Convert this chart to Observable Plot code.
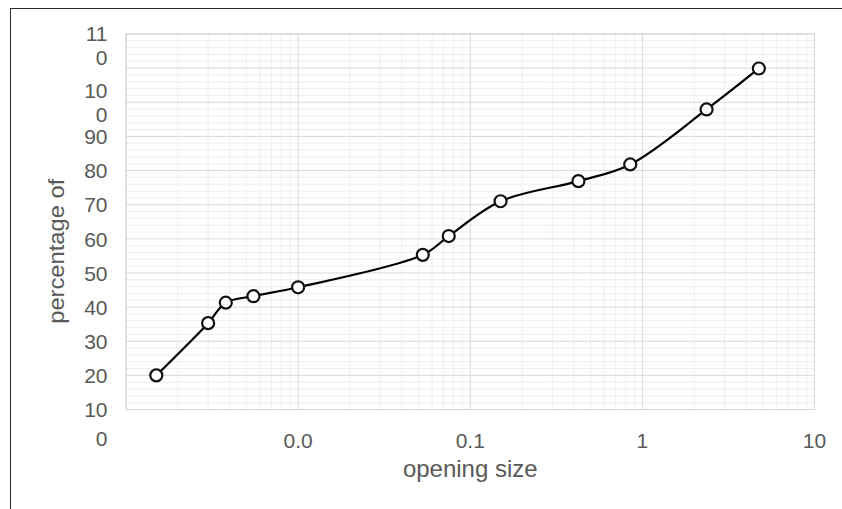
<!DOCTYPE html>
<html>
<head>
<meta charset="utf-8">
<script src="https://cdn.jsdelivr.net/npm/d3@7"></script>
<script src="https://cdn.jsdelivr.net/npm/@observablehq/plot@0.6"></script>
<style>
  html, body { margin: 0; padding: 0; background: #fff; overflow: hidden; }
  #wrap { position: relative; width: 842px; height: 509px; }
  #border {
    position: absolute; left: 9.5px; top: 7.5px; width: 900px; height: 600px;
    border-left: 1.5px solid #2b2b2b; border-top: 1.5px solid #2b2b2b;
  }
  #chart { position: absolute; left: 0; top: 0; }
</style>
</head>
<body>
<div id="wrap">
  <div id="border"></div>
  <div id="chart"></div>
</div>
<script>
// Grain-size distribution: percentage passing versus sieve / particle opening size (mm)
const openingSizes = [0.0015, 0.003, 0.0038, 0.0055, 0.01, 0.053, 0.075, 0.15, 0.425, 0.85, 2.36, 4.75];
const percentPassing = [20.0, 35.3, 41.3, 43.2, 45.8, 55.3, 60.8, 71.0, 76.9, 81.8, 97.9, 109.9];

// Axis ticks and their printed labels
const xTicks = [0.01, 0.1, 1, 10];
const xTickLabels = ["0.0", "0.1", "1", "10"];
const yTicks = [10, 20, 30, 40, 50, 60, 70, 80, 90, 100];
const yTickLabels = ["10", "20", "30", "40", "50", "60", "70", "80", "90", "10\n0"];
const yBottomTick = [0];
const yBottomTickLabel = ["0"];
const yTopTick = [110];
const yTopTickLabel = ["11\n0"];

const xTitle = "opening size";
const yTitle = "percentage of";

const rows = openingSizes.map((s, i) => ({size: s, pct: percentPassing[i]}));

// Gridlines: decades and their 2–9 subdivisions on x, every 10 and every 2 on y
const decades = [0.001, 0.01, 0.1, 1, 10];
const xMinor = decades.slice(0, -1).flatMap(d => d3.range(2, 10).map(k => d * k));
const yMajor = d3.range(10, 121, 10);
const yMinor = d3.range(10, 121, 2).filter(v => v % 10 !== 0);

const xLabelOf = new Map(xTicks.map((t, i) => [t, xTickLabels[i]]));
const yLabelOf = new Map(yTicks.map((t, i) => [t, yTickLabels[i]]));

const tickStyle = {tickSize: 0, label: null, fill: "#595959", lineHeight: 1.15};

const chart = Plot.plot({
  width: 842,
  height: 509,
  marginLeft: 125.5,
  marginRight: 28,
  marginTop: 33.5,
  marginBottom: 100,
  x: {type: "log", domain: [0.001, 10]},
  y: {domain: [10, 120]},
  style: {
    fontFamily: "'Liberation Sans', Arial, sans-serif",
    fontSize: "21px",
    color: "#595959",
    background: "transparent",
    overflow: "visible"
  },
  marks: [
    Plot.gridX(xMinor, {stroke: "#eeeeee", strokeOpacity: 1}),
    Plot.gridY(yMinor, {stroke: "#eeeeee", strokeOpacity: 1}),
    Plot.gridX(decades, {stroke: "#d9d9d9", strokeOpacity: 1}),
    Plot.gridY(yMajor, {stroke: "#d9d9d9", strokeOpacity: 1}),
    Plot.frame({stroke: "#d4d4d4"}),
    Plot.axisX(xTicks, {...tickStyle, tickPadding: 21, tickFormat: d => xLabelOf.get(d)}),
    Plot.axisY(yTicks, {...tickStyle, tickPadding: 18.5, tickFormat: d => yLabelOf.get(d)}),
    Plot.axisY(yBottomTick, {...tickStyle, tickPadding: 18.5, dy: -5, tickFormat: () => yBottomTickLabel[0]}),
    Plot.axisY(yTopTick, {...tickStyle, tickPadding: 18.5, dy: -23, tickFormat: () => yTopTickLabel[0]}),
    Plot.text([xTitle], {
      frameAnchor: "bottom", textAnchor: "middle", lineAnchor: "middle",
      dy: 60.3, fontSize: 24, fill: "#595959"
    }),
    Plot.text([yTitle], {
      frameAnchor: "left", textAnchor: "middle", lineAnchor: "middle", rotate: -90,
      dx: -69, dy: 29.5, fontSize: 22, fill: "#595959", className: "y-title"
    }),
    Plot.line(rows, {x: "size", y: "pct", curve: "catmull-rom", stroke: "#000", strokeWidth: 2.2}),
    Plot.dot(rows, {x: "size", y: "pct", r: 6, fill: "white", stroke: "#111", strokeWidth: 2.2})
  ]
});

// The vertical title is drawn a little wider than its natural length
d3.select(chart).selectAll(".y-title text")
  .attr("textLength", 145)
  .attr("lengthAdjust", "spacingAndGlyphs");

document.getElementById("chart").append(chart);
</script>
</body>
</html>
